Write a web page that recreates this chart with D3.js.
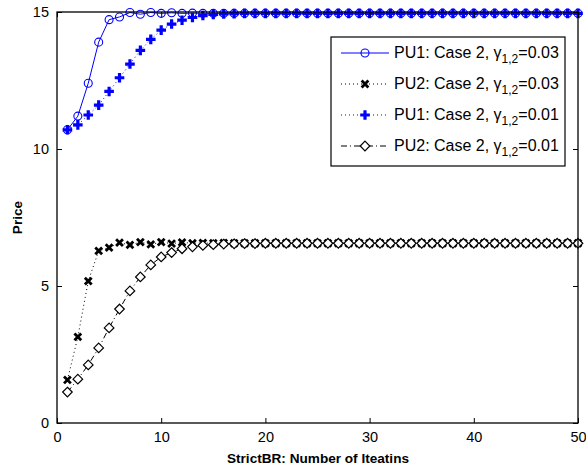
<!DOCTYPE html>
<html>
<head>
<meta charset="utf-8">
<script src="https://cdn.jsdelivr.net/npm/d3@7"></script>
<style>
  body { margin: 0; background: #fff; }
  svg { display: block; font-family: "Liberation Sans", Arial, sans-serif; }
</style>
</head>
<body>
<svg id="chart" width="586" height="470"></svg>
<script>
const iterations = [1,2,3,4,5,6,7,8,9,10,11,12,13,14,15,16,17,18,19,20,21,22,23,24,25,26,27,28,29,30,31,32,33,34,35,36,37,38,39,40,41,42,43,44,45,46,47,48,49,50];
const pu1Gamma003 = [10.7,11.2,12.4,13.9,14.72,14.82,14.98,14.92,14.98,14.95,14.97,14.95,14.96,14.95,14.95,14.95,14.95,14.95,14.95,14.95,14.95,14.95,14.95,14.95,14.95,14.95,14.95,14.95,14.95,14.95,14.95,14.95,14.95,14.95,14.95,14.95,14.95,14.95,14.95,14.95,14.95,14.95,14.95,14.95,14.95,14.95,14.95,14.95,14.95,14.95];
const pu2Gamma003 = [1.57,3.14,5.18,6.28,6.4,6.58,6.5,6.6,6.52,6.6,6.55,6.59,6.56,6.57,6.56,6.57,6.56,6.56,6.56,6.56,6.56,6.56,6.56,6.56,6.56,6.56,6.56,6.56,6.56,6.56,6.56,6.56,6.56,6.56,6.56,6.56,6.56,6.56,6.56,6.56,6.56,6.56,6.56,6.56,6.56,6.56,6.56,6.56,6.56,6.56];
const pu1Gamma001 = [10.7,10.88,11.24,11.6,12.1,12.6,13.1,13.6,14.0,14.34,14.56,14.7,14.8,14.87,14.91,14.93,14.94,14.95,14.95,14.95,14.95,14.95,14.95,14.95,14.95,14.95,14.95,14.95,14.95,14.95,14.95,14.95,14.95,14.95,14.95,14.95,14.95,14.95,14.95,14.95,14.95,14.95,14.95,14.95,14.95,14.95,14.95,14.95,14.95,14.95];
const pu2Gamma001 = [1.13,1.6,2.12,2.74,3.47,4.16,4.82,5.33,5.77,6.06,6.22,6.36,6.43,6.48,6.51,6.53,6.54,6.55,6.55,6.56,6.56,6.56,6.56,6.56,6.56,6.56,6.56,6.56,6.56,6.56,6.56,6.56,6.56,6.56,6.56,6.56,6.56,6.56,6.56,6.56,6.56,6.56,6.56,6.56,6.56,6.56,6.56,6.56,6.56,6.56];
const xTicks = [0,10,20,30,40,50];
const yTicks = [0,5,10,15];
const seriesNames = ["PU1: Case 2, ", "PU2: Case 2, ", "PU1: Case 2, ", "PU2: Case 2, "];
const seriesGammas = ["0.03", "0.03", "0.01", "0.01"];

const series = [
  {name: seriesNames[0], gamma: seriesGammas[0], values: pu1Gamma003, color: "#0000ff", dash: null, marker: "circle"},
  {name: seriesNames[1], gamma: seriesGammas[1], values: pu2Gamma003, color: "#000000", dash: "1,3", marker: "x"},
  {name: seriesNames[2], gamma: seriesGammas[2], values: pu1Gamma001, color: "#0000ff", dash: "1,3", marker: "plus"},
  {name: seriesNames[3], gamma: seriesGammas[3], values: pu2Gamma001, color: "#000000", dash: "6,3,1,3", marker: "diamond"}
];

const svg = d3.select("#chart");
const m = {left: 57, right: 8, top: 12, bottom: 47};
const W = 586, H = 470;
const x = d3.scaleLinear().domain([0, 50]).range([m.left, W - m.right]);
const y = d3.scaleLinear().domain([0, 15]).range([H - m.bottom, m.top]);

const g = svg.append("g");

function drawMarker(sel, type, color) {
  if (type === "circle") {
    sel.append("circle").attr("r", 4).attr("fill", "none").attr("stroke", color).attr("stroke-width", 1.1);
  } else if (type === "x") {
    sel.append("path").attr("d", "M-3.4,-3.4L3.4,3.4M-3.4,3.4L3.4,-3.4").attr("stroke", color).attr("stroke-width", 2.8).attr("fill", "none");
  } else if (type === "plus") {
    sel.append("path").attr("d", "M-4.8,0L4.8,0M0,-4.8L0,4.8").attr("stroke", color).attr("stroke-width", 3.2).attr("fill", "none");
  } else if (type === "diamond") {
    sel.append("path").attr("d", "M0,-4.8L4.8,0L0,4.8L-4.8,0Z").attr("stroke", color).attr("stroke-width", 1.2).attr("fill", "#fff");
  }
}

const line = d3.line().x((d, i) => x(iterations[i])).y(d => y(d));

series.forEach(s => {
  const sg = g.append("g");
  sg.append("path").datum(s.values).attr("d", line)
    .attr("fill", "none").attr("stroke", s.color).attr("stroke-width", 1)
    .attr("stroke-dasharray", s.dash);
  s.values.forEach((v, i) => {
    const mk = sg.append("g").attr("transform", `translate(${x(iterations[i])},${y(v)})`);
    drawMarker(mk, s.marker, s.color);
  });
});

// box
g.append("rect").attr("x", m.left).attr("y", m.top)
  .attr("width", W - m.left - m.right).attr("height", H - m.top - m.bottom)
  .attr("fill", "none").attr("stroke", "#000").attr("stroke-width", 1.3);

// axes (ticks inside)
const xAxisB = d3.axisBottom(x).tickValues(xTicks).tickSizeInner(-5).tickSizeOuter(0).tickPadding(9);
const xAxisT = d3.axisTop(x).tickValues(xTicks).tickSizeInner(-5).tickSizeOuter(0).tickFormat("");
const yAxisL = d3.axisLeft(y).tickValues(yTicks).tickSizeInner(-5).tickSizeOuter(0).tickPadding(8);
const yAxisR = d3.axisRight(y).tickValues(yTicks).tickSizeInner(-5).tickSizeOuter(0).tickFormat("");

function style(a) {
  a.select(".domain").remove();
  a.selectAll("line").attr("stroke", "#000");
  a.selectAll("text").attr("font-size", 14.5).attr("fill", "#000").attr("font-family", "Liberation Sans, Arial, sans-serif");
}
g.append("g").attr("transform", `translate(0,${H - m.bottom})`).call(xAxisB).call(style);
g.append("g").attr("transform", `translate(0,${m.top})`).call(xAxisT).call(style);
g.append("g").attr("transform", `translate(${m.left},0)`).call(yAxisL).call(style);
g.append("g").attr("transform", `translate(${W - m.right},0)`).call(yAxisR).call(style);

// axis labels
svg.append("text").attr("x", 318).attr("y", 463)
  .attr("text-anchor", "middle").attr("font-weight", "bold").attr("font-size", 13.6)
  .text("StrictBR: Number of Iteatins");
svg.append("text").attr("transform", `translate(22,${(m.top + H - m.bottom) / 2}) rotate(-90)`)
  .attr("text-anchor", "middle").attr("font-weight", "bold").attr("font-size", 13.6)
  .text("Price");

// legend
const lg = svg.append("g");
lg.append("rect").attr("x", 331).attr("y", 37).attr("width", 234).attr("height", 129)
  .attr("fill", "#fff").attr("stroke", "#000").attr("stroke-width", 1.2);
const rowY = [53, 84, 115, 146];
series.forEach((s, i) => {
  const r = lg.append("g").attr("transform", `translate(0,${rowY[i]})`);
  r.append("line").attr("x1", 341).attr("x2", 389).attr("y1", 0).attr("y2", 0)
    .attr("stroke", s.color).attr("stroke-width", 1).attr("stroke-dasharray", s.dash);
  const mk = r.append("g").attr("transform", "translate(365,0)");
  drawMarker(mk, s.marker, s.color);
  const t = r.append("text").attr("x", 394).attr("y", 5).attr("font-size", 16).attr("fill", "#000");
  t.append("tspan").text(s.name + "\u03B3");
  t.append("tspan").attr("dy", 5).attr("font-size", 12).text("1,2");
  t.append("tspan").attr("dy", -5).text("=" + s.gamma);
});
</script>
</body>
</html>
